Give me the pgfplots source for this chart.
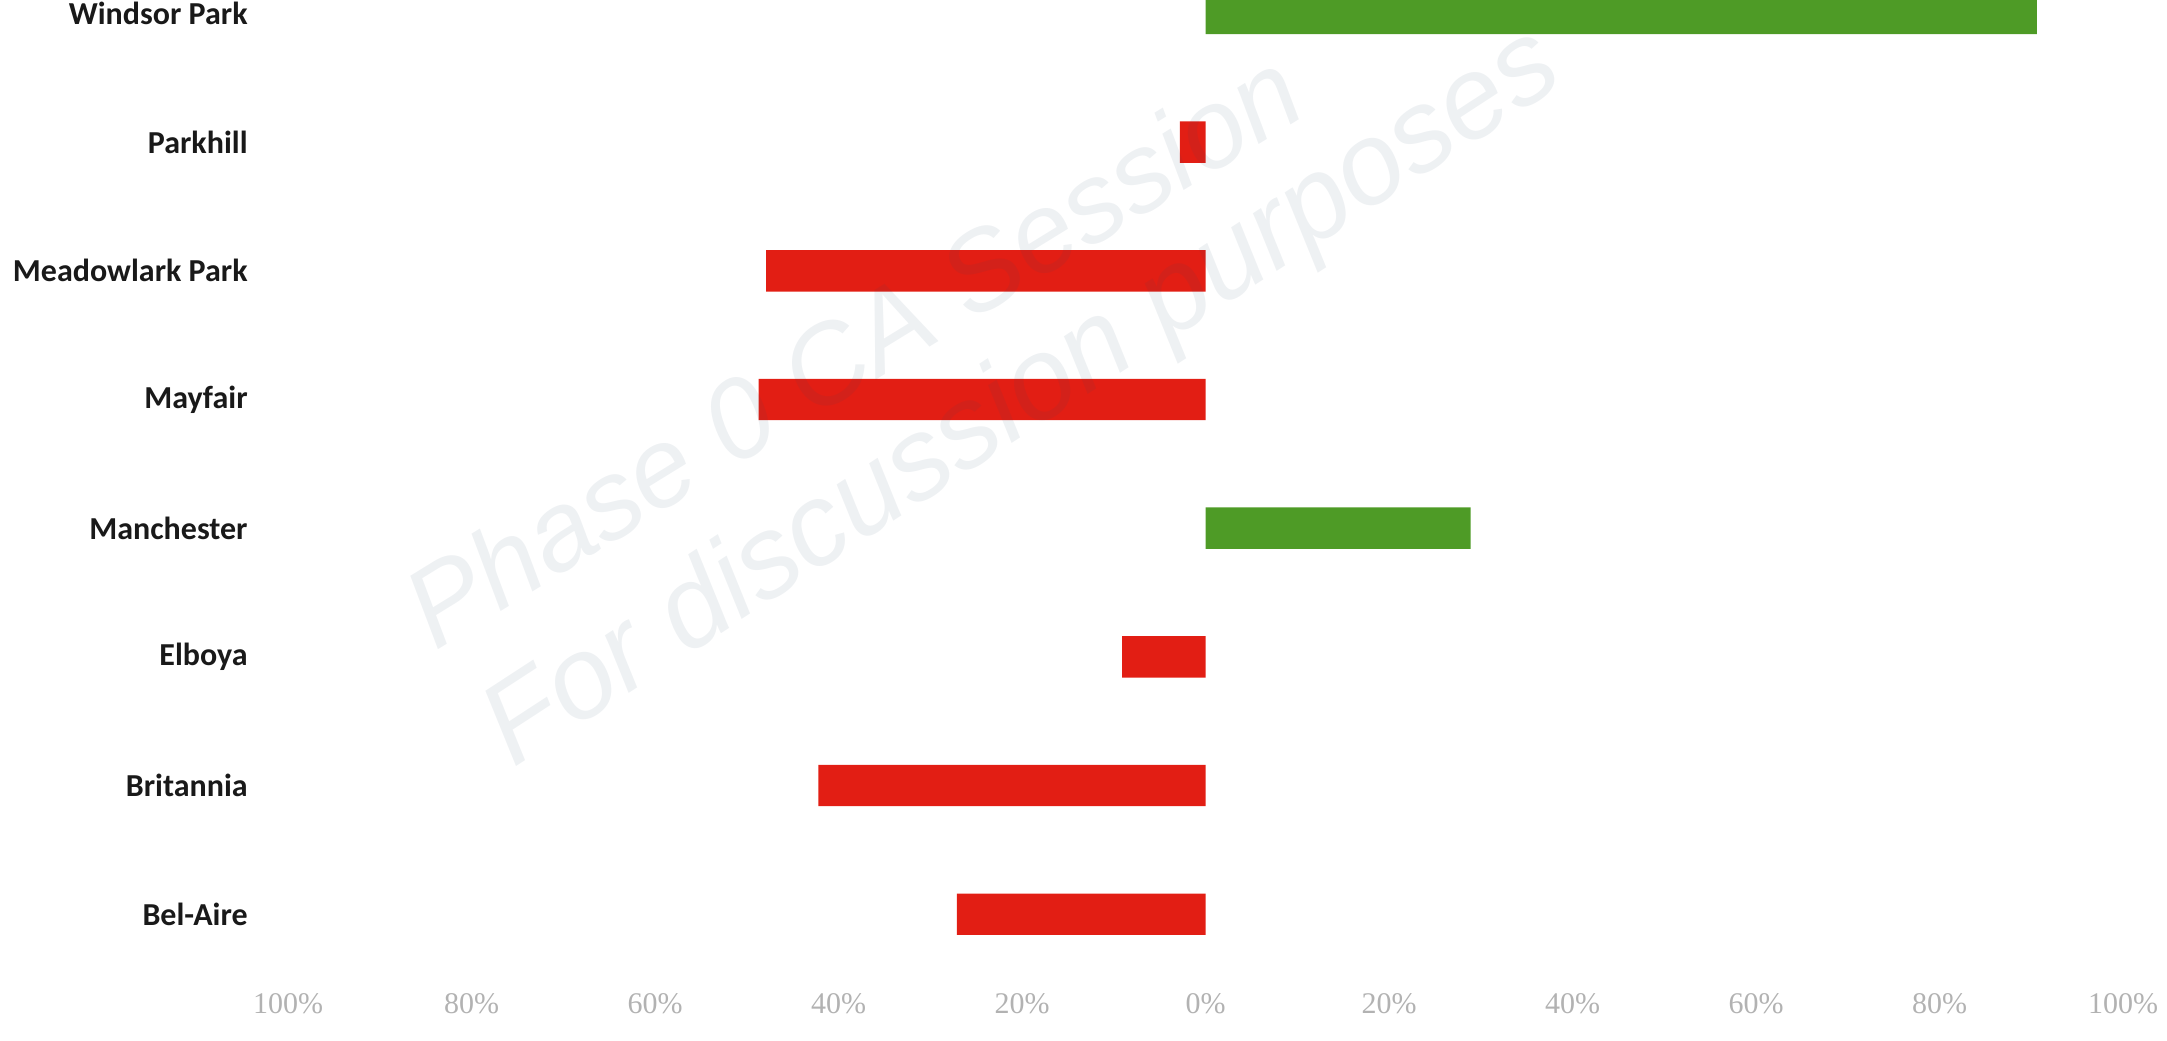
\documentclass[border=0pt]{standalone}
\usepackage{pgfplots}
\pgfplotsset{compat=1.18}
\usepackage{fontspec}
\setmainfont{Liberation Sans}
\newfontfamily\catfont{Carlito}
\newfontfamily\tickfont{Liberation Serif}
\definecolor{barred}{HTML}{E21E14}
\definecolor{bargreen}{HTML}{4E9B26}
\definecolor{wmark}{HTML}{2A4A66}
\begin{document}
\begin{tikzpicture}
\begin{axis}[
  name=ax,
  scale only axis,
  width=917.5pt, height=495.7pt,
  xmin=-100, xmax=100,
  ymin=-0.6, ymax=7.105,
  xbar, bar width=20.7pt, bar shift=0pt,
  axis line style={draw=none},
  major tick length=0pt,
  xtick={-100,-80,-60,-40,-20,0,20,40,60,80,100},
  xticklabels={100\%,80\%,60\%,40\%,20\%,0\%,20\%,40\%,60\%,80\%,100\%},
  xticklabel style={font=\tickfont\fontsize{15}{15}\selectfont, text=black!30, anchor=center, yshift=-6.4pt},
  ytick={0,1,2,3,4,5,6,7},
  yticklabels={Bel-Aire,Britannia,Elboya,Manchester,Mayfair,Meadowlark Park,Parkhill,Windsor Park},
  yticklabel style={font=\catfont\bfseries\fontsize{16}{16}\selectfont, text=black!90, anchor=east, inner sep=0pt, xshift=-20pt},
]
\addplot[fill=barred, draw=none] coordinates {
  (-27.1,0) (-42.2,1) (-9.1,2) (-48.7,4) (-47.9,5) (-2.8,6)
};
\addplot[fill=bargreen, draw=none] coordinates {
  (28.9,3) (90.6,7)
};
\end{axis}
\coordinate (img) at ([xshift=-144pt,yshift=-24.4pt]ax.south west);
\begin{scope}[shift={(img)}]
  \node[rotate=31.6, text=wmark, text opacity=0.08, font=\itshape\fontsize{56}{56}\selectfont] at (426pt,346pt) {Phase 0 CA Session};
  \node[rotate=33.1, text=wmark, text opacity=0.08, font=\itshape\fontsize{58}{58}\selectfont] at (512pt,320pt) {For discussion purposes};
\end{scope}
\pgfresetboundingbox
\path[use as bounding box] (img) rectangle ([xshift=22pt]ax.north east);
\end{tikzpicture}
\end{document}
